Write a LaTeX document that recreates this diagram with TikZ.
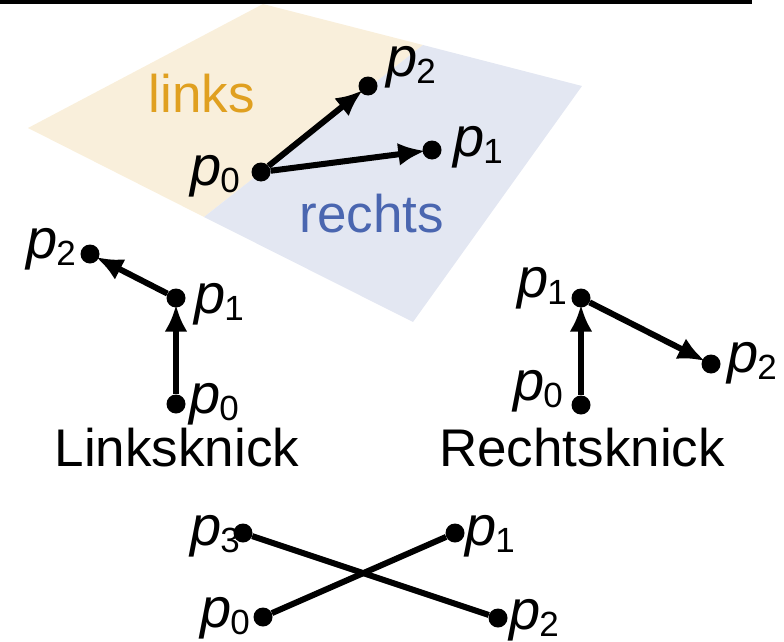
\documentclass[tikz,border=0pt]{standalone}
\usepackage{fontspec}
\setmainfont{Liberation Sans}
\usetikzlibrary{arrows.meta}
\definecolor{planeO}{HTML}{F9EFDB}
\definecolor{planeB}{HTML}{E3E7F2}
\definecolor{txtO}{HTML}{E0A020}
\definecolor{txtB}{HTML}{4A66B0}
\newcommand\plab[1]{\textit{p}\kern-1pt\raisebox{-7pt}{\fontsize{35}{35}\selectfont #1}}
\begin{document}
\begin{tikzpicture}[x=1pt,y=-1pt,
  dot/.style={circle,fill=black,inner sep=0pt,minimum size=19pt},
  arr/.style={line width=6pt,-{Latex[length=27pt,width=23pt]},shorten >=-3pt},
  seg/.style={line width=6pt},
  lab/.style={inner sep=0pt,font=\fontsize{56}{60}\selectfont},
  big/.style={inner sep=0pt,font=\fontsize{53}{60}\selectfont}]
\useasboundingbox (0,0) rectangle (784,642);
% top rule
\draw[line width=4.5pt] (0,2.25) -- (752,2.25);
% plane
\coordinate (top) at (263,4);
\coordinate (lft) at (28,128);
\coordinate (rgt) at (582,86);
\coordinate (bot) at (413,322);
\coordinate (dvA) at (423,45);
\coordinate (dvB) at (204,217);
\fill[planeO] (top) -- (dvA) -- (dvB) -- (lft) -- cycle;
\fill[planeB] (dvA) -- (rgt) -- (bot) -- (dvB) -- cycle;
\node[big,text=txtO,anchor=base] (links) at (202,112) {links};
\node[big,text=txtB,anchor=base] (rechts) at (372,232) {rechts};
% top panel
\node[dot] (t0) at (261,172) {};
\node[dot] (t1) at (432,150) {};
\node[dot] (t2) at (368,86) {};
\draw[arr] (t0) -- (t2);
\draw[arr] (t0) -- (t1);
\node[lab,anchor=base east] (t0l) at (240,185) {\plab{0}};
\node[lab,anchor=base west] (t1l) at (453,156) {\plab{1}};
\node[lab,anchor=base west] (t2l) at (386,77) {\plab{2}};
% Linksknick
\node[dot] (l0) at (176,404) {};
\node[dot] (l1) at (176,298) {};
\node[dot] (l2) at (90,254) {};
\draw[arr] (l0) -- (l1);
\draw[arr] (l1) -- (l2);
\node[lab,anchor=base east] (l2l) at (76,258) {\plab{2}};
\node[lab,anchor=base west] (l1l) at (194,313) {\plab{1}};
\node[lab,anchor=base west] (l0l) at (189,413) {\plab{0}};
\node[big,anchor=base] (lk) at (177,466) {Linksknick};
% Rechtsknick
\node[dot] (r0) at (581,405) {};
\node[dot] (r1) at (581,298) {};
\node[dot] (r2) at (711,364) {};
\draw[arr] (r0) -- (r1);
\draw[arr] (r1) -- (r2);
\node[lab,anchor=base east] (r1l) at (567,297) {\plab{1}};
\node[lab,anchor=base east] (r0l) at (563,400) {\plab{0}};
\node[lab,anchor=base west] (r2l) at (727,372) {\plab{2}};
\node[big,anchor=base] (rk) at (582,466) {Rechtsknick};
% crossing
\node[dot] (b3) at (243,533) {};
\node[dot] (b1) at (455,533) {};
\node[dot] (b0) at (263,617) {};
\node[dot] (b2) at (498,618) {};
\draw[seg] (b3) -- (b2);
\draw[seg] (b0) -- (b1);
\node[lab,anchor=base east] (b3l) at (240,545) {\plab{3}};
\node[lab,anchor=base west] (b1l) at (465,545) {\plab{1}};
\node[lab,anchor=base east] (b0l) at (250,627) {\plab{0}};
\node[lab,anchor=base west] (b2l) at (509,629) {\plab{2}};
\end{tikzpicture}
\end{document}
